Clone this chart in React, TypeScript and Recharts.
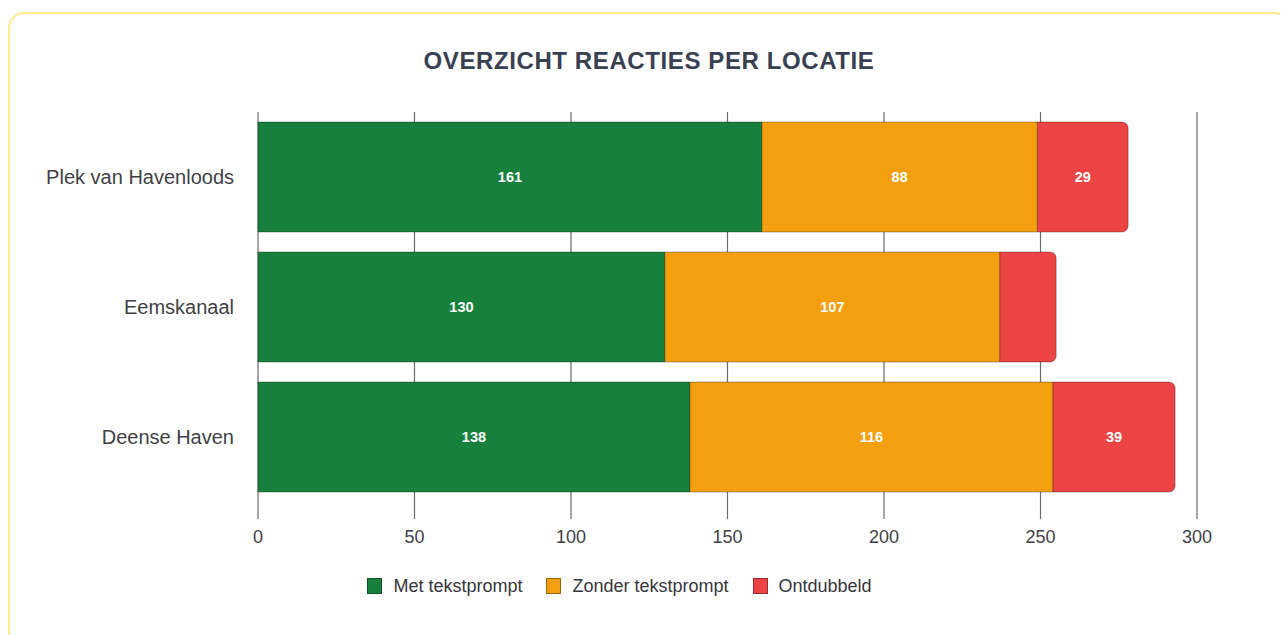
import React from 'react';
import { BarChart, Bar, XAxis, YAxis, CartesianGrid, Legend, LabelList } from 'recharts';

const locations = ['Plek van Havenloods', 'Eemskanaal', 'Deense Haven'];
const metTekstprompt = [161, 130, 138];
const zonderTekstprompt = [88, 107, 116];
const ontdubbeld = [29, 18, 39];
const xTicks = [0, 50, 100, 150, 200, 250, 300];

const SERIES = [
  { key: 'met', name: 'Met tekstprompt', color: '#18803d' },
  { key: 'zonder', name: 'Zonder tekstprompt', color: '#f39f10' },
  { key: 'ontdubbeld', name: 'Ontdubbeld', color: '#ec4444' },
];

const data = locations.map((name, i) => ({
  name,
  met: metTekstprompt[i],
  zonder: zonderTekstprompt[i],
  ontdubbeld: ontdubbeld[i],
}));

const FONT = '"Liberation Sans", Arial, Helvetica, sans-serif';

// small segments get no label (like the Eemskanaal "ontdubbeld" part)
function SegmentLabel(props: any) {
  const { x, y, width, height, value } = props;
  if (value == null || value < 20) return null;
  return (
    <text
      x={x + width / 2}
      y={y + height / 2}
      textAnchor="middle"
      dominantBaseline="central"
      fill="#ffffff"
      fontSize={14.5}
      fontWeight="bold"
      fontFamily={FONT}
    >
      {value}
    </text>
  );
}

function LegendContent() {
  return (
    <div
      style={{
        height: 40,
        display: 'flex',
        justifyContent: 'center',
        alignItems: 'center',
        gap: 24,
        fontFamily: FONT,
        fontSize: 18,
        color: '#36363d',
        paddingLeft: 32,
      }}
    >
      {SERIES.map(s => (
        <div key={s.key} style={{ display: 'flex', alignItems: 'center', gap: 11 }}>
          <span
            style={{
              display: 'inline-block',
              width: 15,
              height: 16,
              background: s.color,
              border: '1px solid rgba(0,0,0,0.35)',
              boxSizing: 'border-box',
            }}
          />
          <span>{s.name}</span>
        </div>
      ))}
    </div>
  );
}

export default function App() {
  return (
    <div style={{ paddingTop: 4 }}>
      <div
        style={{
          position: 'relative',
          width: 1282,
          height: 700,
          boxSizing: 'border-box',
          border: '2px solid #fcec8c',
          borderRadius: 16,
          background: '#ffffff',
          boxShadow: '0 1px 3px rgba(0,0,0,0.06)',
        }}
      >
        <div
          style={{
            position: 'absolute',
            top: 32,
            left: 0,
            width: '100%',
            textAlign: 'center',
            fontFamily: FONT,
            fontSize: 24,
            fontWeight: 'bold',
            lineHeight: '30px',
            color: '#384152',
            letterSpacing: 0.6,
          }}
        >
          OVERZICHT REACTIES PER LOCATIE
        </div>
        <div style={{ position: 'absolute', top: 0, left: 0 }}>
          <BarChart
            layout="vertical"
            width={1278}
            height={620}
            data={data}
            margin={{ top: 98, right: 91, left: 0, bottom: 28 }}
          >
            <CartesianGrid horizontal={false} stroke="#6b6b6b" strokeWidth={1.2} />
            <XAxis
              type="number"
              domain={[0, 300]}
              ticks={xTicks}
              height={64}
              axisLine={false}
              tickSize={17}
              tickMargin={11}
              tickLine={{ stroke: '#6b6b6b', strokeWidth: 1.2 }}
              tick={{ fill: '#3f3f46', fontSize: 18, fontFamily: FONT }}
            />
            <YAxis
              type="category"
              dataKey="name"
              width={248}
              axisLine={false}
              tickLine={false}
              tickSize={0}
              tickMargin={24}
              tick={{ fill: '#3f3f46', fontSize: 20, fontFamily: FONT }}
            />
            <Legend verticalAlign="bottom" content={<LegendContent />} />
            <Bar
              dataKey="met"
              name="Met tekstprompt"
              stackId="a"
              barSize={110}
              fill={SERIES[0].color}
              stroke="rgba(0,0,0,0.3)"
              strokeWidth={1}
              isAnimationActive={false}
            >
              <LabelList dataKey="met" content={<SegmentLabel />} />
            </Bar>
            <Bar
              dataKey="zonder"
              name="Zonder tekstprompt"
              stackId="a"
              barSize={110}
              fill={SERIES[1].color}
              stroke="rgba(0,0,0,0.3)"
              strokeWidth={1}
              isAnimationActive={false}
            >
              <LabelList dataKey="zonder" content={<SegmentLabel />} />
            </Bar>
            <Bar
              dataKey="ontdubbeld"
              name="Ontdubbeld"
              stackId="a"
              barSize={110}
              fill={SERIES[2].color}
              stroke="rgba(0,0,0,0.3)"
              strokeWidth={1}
              radius={[0, 6, 6, 0]}
              isAnimationActive={false}
            >
              <LabelList dataKey="ontdubbeld" content={<SegmentLabel />} />
            </Bar>
          </BarChart>
        </div>
      </div>
    </div>
  );
}
